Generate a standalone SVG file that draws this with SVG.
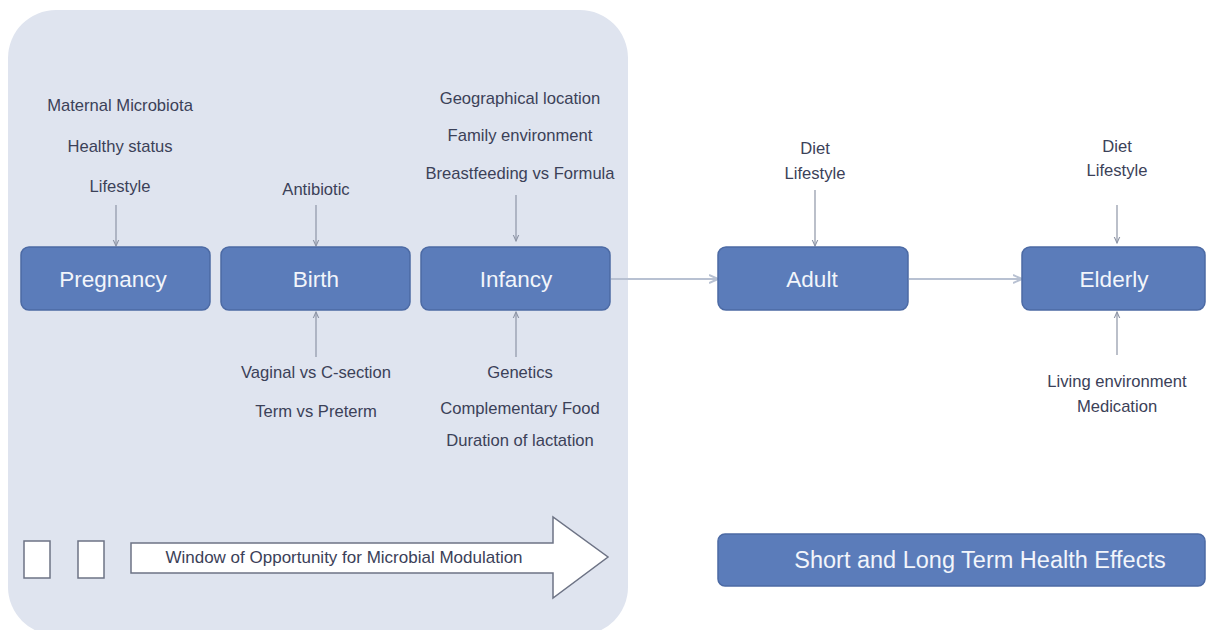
<svg xmlns="http://www.w3.org/2000/svg" width="1210" height="630" viewBox="0 0 1210 630">
<defs>
<style>
.lbl{font-family:"Liberation Sans",Arial,sans-serif;font-size:16.6px;fill:#3b4158;text-anchor:middle}
.box{fill:#5b7cba;stroke:#4c6aa4;stroke-width:1.5}
.bt{font-family:"Liberation Sans",Arial,sans-serif;font-size:22.5px;fill:#f2f5fb;text-anchor:middle}
.ar{stroke:#8e95a6;stroke-width:1.2;fill:none;marker-end:url(#ah)}
.hz{stroke:#b8c1d2;stroke-width:2;fill:none;marker-end:url(#ah2)}
</style>
<marker id="ah" viewBox="0 0 10 10" refX="9" refY="5" markerWidth="6" markerHeight="6" orient="auto"><path d="M0,1 L9,5 L0,9" fill="none" stroke="#8e95a6" stroke-width="1.5"/></marker>
<marker id="ah2" viewBox="0 0 10 10" refX="9" refY="5" markerWidth="5" markerHeight="5" orient="auto"><path d="M0,1 L9,5 L0,9" fill="none" stroke="#b8c1d2" stroke-width="2"/></marker>
</defs>
<rect width="1210" height="630" fill="#ffffff"/>
<rect id="window-panel" x="8" y="10" width="620" height="625" rx="48" fill="#dfe4ef"/>

<g id="connectors">
<line class="ar" x1="116" y1="205" x2="116" y2="246"/>
<line class="ar" x1="316" y1="205" x2="316" y2="246"/>
<line class="ar" x1="516" y1="195" x2="516" y2="241"/>
<line class="ar" x1="316" y1="357" x2="316" y2="312"/>
<line class="ar" x1="516" y1="357" x2="516" y2="312"/>
<line class="ar" x1="815" y1="190" x2="815" y2="246"/>
<line class="ar" x1="1117" y1="205" x2="1117" y2="243"/>
<line class="ar" x1="1117" y1="355" x2="1117" y2="312"/>
<line class="hz" x1="611" y1="279" x2="718" y2="279"/>
<line class="hz" x1="909" y1="279" x2="1022" y2="279"/>
</g>

<g id="pregnancy-factors">
<text class="lbl" x="120" y="111">Maternal Microbiota</text>
<text class="lbl" x="120" y="152">Healthy status</text>
<text class="lbl" x="120" y="192">Lifestyle</text>
</g>
<g id="birth-factors-top"><text class="lbl" x="316" y="195">Antibiotic</text></g>
<g id="infancy-factors-top">
<text class="lbl" x="520" y="104">Geographical location</text>
<text class="lbl" x="520" y="141">Family environment</text>
<text class="lbl" x="520" y="179">Breastfeeding vs Formula</text>
</g>
<g id="birth-factors-bottom">
<text class="lbl" x="316" y="378">Vaginal vs C-section</text>
<text class="lbl" x="316" y="417">Term vs Preterm</text>
</g>
<g id="infancy-factors-bottom">
<text class="lbl" x="520" y="378">Genetics</text>
<text class="lbl" x="520" y="414">Complementary Food</text>
<text class="lbl" x="520" y="446">Duration of lactation</text>
</g>
<g id="adult-factors">
<text class="lbl" x="815" y="154">Diet</text>
<text class="lbl" x="815" y="179">Lifestyle</text>
</g>
<g id="elderly-factors-top">
<text class="lbl" x="1117" y="152">Diet</text>
<text class="lbl" x="1117" y="176">Lifestyle</text>
</g>
<g id="elderly-factors-bottom">
<text class="lbl" x="1117" y="387">Living environment</text>
<text class="lbl" x="1117" y="412">Medication</text>
</g>

<g id="pregnancy"><rect class="box" x="21" y="247" width="189" height="63" rx="8"/><text class="bt" x="113" y="287">Pregnancy</text></g>
<g id="birth"><rect class="box" x="221" y="247" width="189" height="63" rx="8"/><text class="bt" x="316" y="287">Birth</text></g>
<g id="infancy"><rect class="box" x="421" y="247" width="189" height="63" rx="8"/><text class="bt" x="516" y="287">Infancy</text></g>
<g id="adult"><rect class="box" x="718" y="247" width="190" height="63" rx="8"/><text class="bt" x="812" y="287">Adult</text></g>
<g id="elderly"><rect class="box" x="1022" y="247" width="183" height="63" rx="8"/><text class="bt" x="1114" y="287">Elderly</text></g>
<g id="health-effects"><rect class="box" x="718" y="534" width="487" height="52" rx="7"/><text class="bt" x="980" y="568" style="font-size:23.5px">Short and Long Term Health Effects</text></g>

<g id="window-arrow">
<rect x="24" y="541" width="26" height="37" fill="#ffffff" stroke="#6d7385" stroke-width="1.5"/>
<rect x="78" y="541" width="26" height="37" fill="#ffffff" stroke="#6d7385" stroke-width="1.5"/>
<path d="M131,543 L553,543 L553,517 L608,557 L553,598 L553,573 L131,573 Z" fill="#ffffff" stroke="#6d7385" stroke-width="1.5"/>
<text class="lbl" x="344" y="563" style="font-size:17px">Window of Opportunity for Microbial Modulation</text>
</g>
</svg>
